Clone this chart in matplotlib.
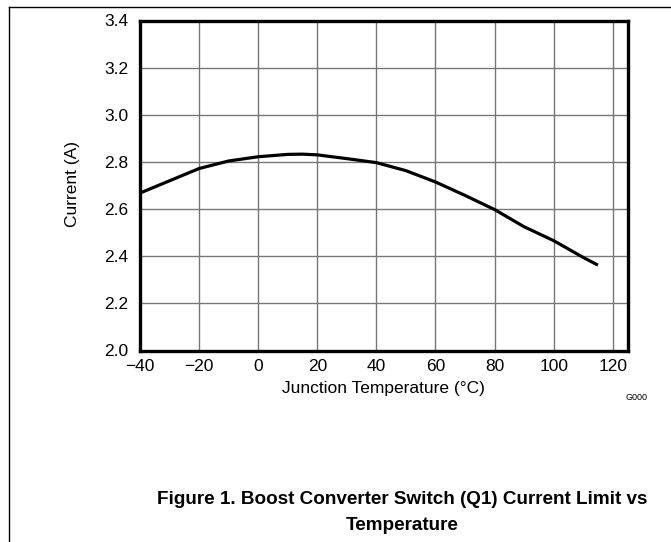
import matplotlib
matplotlib.use("Agg")
import matplotlib.pyplot as plt
from matplotlib.lines import Line2D

plt.rcParams['font.family'] = ['Liberation Sans', 'DejaVu Sans']

temp = [-40, -30, -20, -10, 0, 10, 15, 20, 30, 40, 50, 60, 70, 80, 90, 100, 110, 115]
current = [2.668, 2.72, 2.772, 2.804, 2.822, 2.832, 2.833, 2.830, 2.814, 2.797, 2.763, 2.715, 2.658, 2.598, 2.525, 2.466, 2.395, 2.362]
xticks = [-40, -20, 0, 20, 40, 60, 80, 100, 120]
yticks = [2.0, 2.2, 2.4, 2.6, 2.8, 3.0, 3.2, 3.4]
xlabels = ['\u221240', '\u221220', '0', '20', '40', '60', '80', '100', '120']
ylabels = ['2.0', '2.2', '2.4', '2.6', '2.8', '3.0', '3.2', '3.4']

W, H = 671, 542
fig = plt.figure(figsize=(W/100, H/100), dpi=100)
ax = fig.add_axes([140/W, 1-350.5/H, (627.5-140)/W, (350.5-20.5)/H])

ax.plot(temp, current, color='black', lw=2.3, solid_capstyle='butt', solid_joinstyle='round')
ax.set_xlim(-40, 125)
ax.set_ylim(2.0, 3.4)
ax.set_xticks(xticks)
ax.set_xticklabels(xlabels)
ax.set_yticks(yticks)
ax.set_yticklabels(ylabels)
ax.grid(True, color='#777777', lw=1.0)
ax.tick_params(length=0, labelsize=12.5)
ax.tick_params(axis='x', pad=6.2)
ax.tick_params(axis='y', pad=8.5)
for s in ax.spines.values():
    s.set_linewidth(2.4)

ax.set_xlabel('Junction Temperature (\u00b0C)', fontsize=12.5, va='center', ha='center')
ax.set_ylabel('Current (A)', fontsize=12.5, va='center', ha='center')
ax.xaxis.set_label_coords(383/W, 1-389/H, transform=fig.transFigure)
ax.yaxis.set_label_coords(72.5/W, 1-184/H, transform=fig.transFigure)

fig.text(637/W, 1-398/H, 'G000', fontsize=6.5, ha='center', va='center')
fig.text(402/W, 1-499/H, 'Figure 1. Boost Converter Switch (Q1) Current Limit vs',
         fontsize=13.6, fontweight='bold', ha='center', va='center')
fig.text(402/W, 1-526/H, 'Temperature',
         fontsize=13.6, fontweight='bold', ha='center', va='center')

fig.add_artist(Line2D([9/W, 9/W], [0, 1-7/H], transform=fig.transFigure, color='black', lw=1))
fig.add_artist(Line2D([9/W, 1], [1-7/H, 1-7/H], transform=fig.transFigure, color='black', lw=1))

fig.savefig('out.png', dpi=100)
